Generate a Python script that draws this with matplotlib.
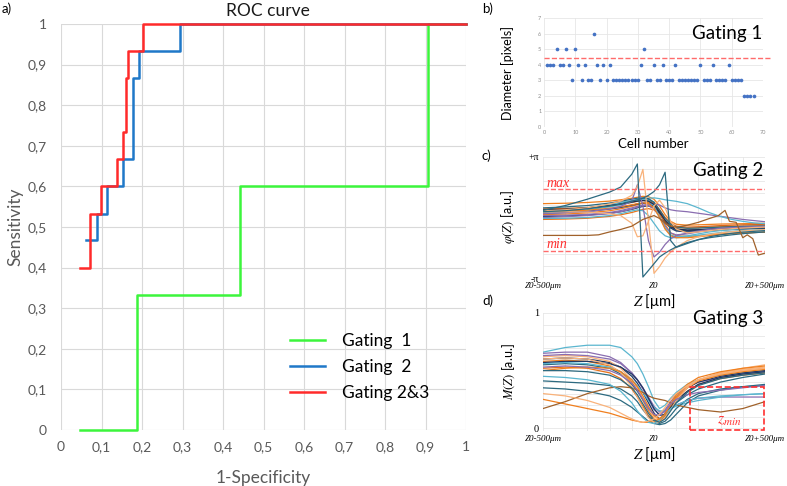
import numpy as np
import matplotlib
matplotlib.use('Agg')
import matplotlib.pyplot as plt
from matplotlib.ticker import FuncFormatter
from matplotlib.patches import Rectangle

plt.rcParams['font.family'] = ['Lato', 'DejaVu Sans']
plt.rcParams['mathtext.fontset'] = 'stix'

# ---- a) ROC curve (step corners) ----
fpr_g1 = [0.047, 0.188, 0.442, 0.907, 1.0]
tpr_g1 = [0.0, 0.333, 0.6, 1.0, 1.0]
fpr_g2 = [0.061, 0.090, 0.113, 0.152, 0.177, 0.193, 0.295, 1.0]
tpr_g2 = [0.467, 0.533, 0.6, 0.667, 0.867, 0.933, 1.0, 1.0]
fpr_g23 = [0.047, 0.072, 0.098, 0.139, 0.154, 0.160, 0.166, 0.203, 1.0]
tpr_g23 = [0.4, 0.533, 0.6, 0.667, 0.733, 0.867, 0.933, 1.0, 1.0]
roc_labels = ['Gating  1', 'Gating  2', 'Gating 2&3']

# ---- b) diameter per cell ----
cell_number = list(range(1, 68))
diameter = [4, 4, 4, 5, 4, 4, 5, 4, 3, 5, 4, 3, 4, 3, 3, 6, 4, 3, 4, 3,
            4, 3, 3, 3, 3, 3, 3, 3, 3, 3, 4, 5, 3, 3, 4, 3, 3, 4, 3, 3,
            3, 4, 3, 3, 3, 3, 3, 3, 3, 4, 3, 3, 3, 4, 3, 3, 3, 3, 4, 3,
            3, 3, 3, 2, 2, 2, 2]
diameter_thr = 4.4

# ---- c) phase curves ----
z_phase = [-500, -400, -300, -200, -150, -100, -75, -50, -25, 0, 25,
           50, 75, 100, 150, 200, 250, 300, 350, 400, 450, 500]
phase_curves = [
    [0.35, 0.40, 0.48, 0.62, 0.72, 0.85, 0.92, 0.98, 0.95, 0.75, 0.30, -0.20, -0.50, -0.65, -0.70, -0.68, -0.65, -0.62, -0.60, -0.58, -0.56, -0.55],
    [0.72, 0.74, 0.78, 0.85, 0.92, 1.00, 1.05, 1.10, 1.08, 0.95, 0.60, 0.15, -0.20, -0.35, -0.40, -0.38, -0.36, -0.34, -0.33, -0.32, -0.31, -0.30],
    [0.15, 0.18, 0.24, 0.35, 0.45, 0.58, 0.66, 0.74, 0.78, 0.70, 0.30, -0.35, -0.80, -0.95, -0.98, -0.95, -0.90, -0.86, -0.82, -0.80, -0.78, -0.76],
    [0.45, 0.47, 0.52, 0.60, 0.68, 0.78, 0.84, 0.88, 0.86, 0.72, 0.40, 0.00, -0.30, -0.45, -0.50, -0.48, -0.45, -0.42, -0.40, -0.38, -0.37, -0.36],
    [0.22, 0.26, 0.32, 0.44, 0.52, 0.64, 0.70, 0.74, 0.72, 0.58, 0.22, -0.25, -0.55, -0.70, -0.75, -0.72, -0.68, -0.65, -0.62, -0.60, -0.58, -0.57],
    [0.05, 0.08, 0.13, 0.22, 0.30, 0.42, 0.50, 0.58, 0.60, 0.50, 0.20, -0.20, -0.48, -0.60, -0.65, -0.63, -0.60, -0.57, -0.55, -0.53, -0.52, -0.51],
    [-0.10, -0.08, -0.04, 0.06, 0.14, 0.26, 0.34, 0.42, 0.46, 0.40, 0.15, -0.20, -0.42, -0.52, -0.55, -0.53, -0.50, -0.48, -0.46, -0.45, -0.44, -0.43],
    [0.10, 0.12, 0.16, 0.26, 0.36, 0.50, 0.58, 0.64, 0.62, 0.45, 0.05, -0.45, -0.80, -0.90, -0.85, -0.75, -0.66, -0.60, -0.55, -0.52, -0.50, -0.48],
    [0.00, 0.04, 0.10, 0.20, 0.30, 0.44, 0.54, 0.62, 0.70, 0.72, 0.65, 0.50, 0.40, 0.35, 0.30, 0.22, 0.14, 0.06, -0.02, -0.10, -0.16, -0.22],
    [0.25, 0.30, 0.40, 0.55, 0.65, 0.80, 0.88, 0.95, 1.00, 1.02, 0.98, 0.92, 0.88, 0.84, 0.72, 0.50, 0.25, 0.05, -0.10, -0.20, -0.28, -0.32],
    [0.35, 0.40, 0.50, 0.68, 0.78, 0.88, 0.92, 0.94, 0.88, 0.60, 0.05, -0.55, -0.90, -1.00, -0.95, -0.85, -0.75, -0.68, -0.62, -0.58, -0.55, -0.52],
    [-0.05, -0.04, 0.00, 0.10, 0.20, 0.34, 0.40, 0.35, 0.10, -0.30, -0.70, -0.95, -1.05, -1.05, -1.00, -0.92, -0.85, -0.78, -0.72, -0.68, -0.65, -0.62],
    [0.50, 0.55, 0.62, 0.75, 0.84, 0.95, 1.00, 1.02, 0.98, 0.80, 0.40, -0.05, -0.35, -0.50, -0.56, -0.55, -0.52, -0.50, -0.48, -0.46, -0.45, -0.44],
    [0.40, 0.43, 0.50, 0.62, 0.70, 0.80, 0.85, 0.88, 0.85, 0.68, 0.28, -0.15, -0.45, -0.60, -0.66, -0.64, -0.61, -0.58, -0.56, -0.55, -0.54, -0.53],
    [0.30, 0.33, 0.38, 0.48, 0.56, 0.66, 0.72, 0.76, 0.72, 0.50, 0.00, -0.60, -0.95, -1.05, -1.05, -1.00, -0.94, -0.88, -0.84, -0.80, -0.78, -0.76],
    [0.20, 0.25, 0.30, 0.45, 0.58, 0.85, 1.70, 0.60, -1.20, -2.05, -1.80, -1.40, -1.10, -0.95, -0.80, -0.70, -0.62, -0.56, -0.52, -0.50, -0.48, -0.46],
    [0.30, 0.30, 0.28, 0.20, 0.10, -0.30, -1.00, -0.95, -0.20, 0.60, 0.90, 0.50, -0.20, -0.60, -0.80, -0.75, -0.68, -0.62, -0.58, -0.55, -0.52, -0.50],
    [0.35, 0.40, 0.50, 0.70, 0.85, 1.15, 1.60, 2.50, -0.20, -2.90, -2.55, -2.10, -1.80, -1.55, -1.20, -1.00, -0.88, -0.80, -0.74, -0.70, -0.66, -0.63],
    [0.30, 0.35, 0.45, 0.60, 0.70, 0.85, 0.92, 1.00, 1.15, 1.35, 1.70, 2.35, -1.20, -1.55, -1.35, -1.15, -1.00, -0.90, -0.82, -0.76, -0.72, -0.68],
    [0.37, 0.62, 0.95, 1.32, 1.58, 2.25, 2.78, -3.09, -2.75, -2.40, -2.05, -1.85, -1.68, -1.53, -1.30, -1.15, -1.05, -0.97, -0.90, -0.84, -0.79, -0.75],
]
phase_colors = ['#2c6a80', '#f07f1e', '#f07f1e', '#d9661c', '#1f3864', '#1f3864',
                '#e8731a', '#8a6db0', '#8a6db0', '#5bb6cf', '#5bb6cf', '#5bb6cf',
                '#2c6a80', '#22304f', '#f07f1e', '#8a6db0', '#f9b27a', '#f9b27a',
                '#2c6a80', '#2c6a80']
z_brown = [-500, -300, -250, -200, -150, -100, -50, 0, 25, 50, 75, 100, 150,
           200, 250, 290, 320, 340, 370, 400, 420, 445, 470, 500]
phase_brown = [-0.93, -0.93, -0.90, -0.75, -0.62, -0.45, -0.10, 0.10, -0.05, -0.30, -0.45, -0.50,
               -0.40, -0.25, -0.05, 0.10, 0.37, -0.20, -0.25, -1.05, -0.90, -1.10, -1.95, -1.85]
phase_max = 1.46
phase_min = -1.72

# ---- d) magnitude curves ----
z_mag = [-500, -400, -300, -200, -150, -100, -75, -50, -25, 0, 25, 50, 75, 100, 150, 200, 300, 400, 500]
mag_curves = [
    [0.66, 0.70, 0.72, 0.72, 0.70, 0.62, 0.56, 0.47, 0.36, 0.24, 0.17, 0.20, 0.26, 0.31, 0.38, 0.42, 0.46, 0.48, 0.50],
    [0.65, 0.66, 0.66, 0.62, 0.57, 0.48, 0.42, 0.34, 0.25, 0.16, 0.12, 0.16, 0.23, 0.29, 0.36, 0.40, 0.44, 0.47, 0.49],
    [0.60, 0.61, 0.60, 0.57, 0.53, 0.45, 0.39, 0.31, 0.22, 0.13, 0.08, 0.12, 0.20, 0.27, 0.35, 0.40, 0.45, 0.48, 0.50],
    [0.58, 0.59, 0.58, 0.54, 0.49, 0.40, 0.33, 0.24, 0.15, 0.08, 0.05, 0.10, 0.19, 0.27, 0.36, 0.42, 0.47, 0.50, 0.52],
    [0.55, 0.56, 0.55, 0.52, 0.47, 0.38, 0.32, 0.25, 0.17, 0.11, 0.08, 0.11, 0.17, 0.22, 0.29, 0.34, 0.40, 0.44, 0.47],
    [0.62, 0.63, 0.62, 0.58, 0.52, 0.42, 0.35, 0.26, 0.17, 0.10, 0.07, 0.10, 0.18, 0.26, 0.36, 0.42, 0.48, 0.51, 0.53],
    [0.52, 0.53, 0.52, 0.48, 0.43, 0.34, 0.27, 0.19, 0.11, 0.06, 0.06, 0.11, 0.18, 0.24, 0.32, 0.38, 0.43, 0.46, 0.48],
    [0.63, 0.64, 0.63, 0.60, 0.56, 0.48, 0.42, 0.35, 0.27, 0.19, 0.14, 0.14, 0.17, 0.20, 0.24, 0.26, 0.27, 0.27, 0.27],
    [0.56, 0.57, 0.56, 0.53, 0.49, 0.42, 0.37, 0.31, 0.24, 0.18, 0.15, 0.15, 0.17, 0.19, 0.22, 0.24, 0.27, 0.29, 0.30],
    [0.41, 0.40, 0.39, 0.37, 0.34, 0.28, 0.23, 0.16, 0.10, 0.06, 0.04, 0.06, 0.11, 0.17, 0.25, 0.30, 0.34, 0.36, 0.37],
    [0.35, 0.34, 0.32, 0.28, 0.24, 0.18, 0.14, 0.10, 0.06, 0.04, 0.03, 0.04, 0.07, 0.12, 0.22, 0.28, 0.33, 0.36, 0.38],
    [0.25, 0.21, 0.17, 0.13, 0.10, 0.07, 0.06, 0.05, 0.05, 0.06, 0.08, 0.13, 0.20, 0.26, 0.35, 0.41, 0.46, 0.49, 0.51],
    [0.17, 0.23, 0.30, 0.35, 0.36, 0.35, 0.33, 0.31, 0.28, 0.26, 0.25, 0.24, 0.22, 0.20, 0.18, 0.16, 0.14, 0.17, 0.23],
    [0.57, 0.58, 0.58, 0.56, 0.53, 0.47, 0.42, 0.35, 0.26, 0.17, 0.11, 0.12, 0.18, 0.24, 0.32, 0.38, 0.44, 0.47, 0.49],
    [0.60, 0.61, 0.60, 0.55, 0.48, 0.36, 0.27, 0.17, 0.09, 0.05, 0.05, 0.09, 0.16, 0.24, 0.35, 0.42, 0.48, 0.52, 0.55],
    [0.45, 0.44, 0.42, 0.38, 0.32, 0.22, 0.15, 0.09, 0.05, 0.04, 0.07, 0.12, 0.17, 0.20, 0.24, 0.26, 0.28, 0.29, 0.30],
    [0.50, 0.52, 0.53, 0.52, 0.49, 0.42, 0.36, 0.28, 0.19, 0.11, 0.08, 0.12, 0.21, 0.29, 0.38, 0.44, 0.49, 0.52, 0.54],
    [0.53, 0.54, 0.53, 0.50, 0.46, 0.39, 0.33, 0.25, 0.17, 0.12, 0.11, 0.15, 0.21, 0.25, 0.29, 0.31, 0.33, 0.35, 0.37],
    [0.50, 0.50, 0.49, 0.46, 0.42, 0.35, 0.29, 0.21, 0.13, 0.07, 0.05, 0.08, 0.15, 0.22, 0.31, 0.37, 0.43, 0.46, 0.48],
    [0.30, 0.28, 0.24, 0.18, 0.13, 0.08, 0.06, 0.05, 0.06, 0.08, 0.12, 0.18, 0.25, 0.30, 0.37, 0.42, 0.47, 0.50, 0.52],
]
mag_colors = ['#5bb6cf', '#8a6db0', '#1f3864', '#f07f1e', '#2c6a80', '#f9b27a',
              '#e8731a', '#8a6db0', '#5bb6cf', '#2c6a80', '#2c6a80', '#f07f1e',
              '#a0612a', '#1f3864', '#f9b27a', '#5bb6cf', '#f07f1e', '#8a6db0',
              '#2c6a80', '#f9b27a']
zmin_box = (160, 495, -0.017, 0.36)

fig = plt.figure(figsize=(7.87, 4.86), dpi=100)
W, H = 787.0, 486.0

def px_axes(x0, y0, x1, y1):
    return fig.add_axes([x0 / W, 1 - y1 / H, (x1 - x0) / W, (y1 - y0) / H])

grey = '#595959'
gridc = '#d9d9d9'

# ---------- a) ----------
ax = px_axes(61, 24, 466, 430)
ax.plot(fpr_g1, tpr_g1, drawstyle='steps-post', color='#3cf53c', lw=1.8, label=roc_labels[0], clip_on=False)
ax.plot(fpr_g2, tpr_g2, drawstyle='steps-post', color='#1f78c8', lw=1.8, label=roc_labels[1], clip_on=False)
ax.plot(fpr_g23, tpr_g23, drawstyle='steps-post', color='#ff2a2a', lw=1.8, label=roc_labels[2], clip_on=False)
ax.set_xlim(0, 1)
ax.set_ylim(0, 1)
ax.set_xticks(np.linspace(0, 1, 11))
ax.set_yticks(np.linspace(0, 1, 11))
comma = FuncFormatter(lambda v, p: ('%g' % round(v, 2)).replace('.', ','))
ax.xaxis.set_major_formatter(comma)
ax.yaxis.set_major_formatter(comma)
ax.tick_params(length=0, labelsize=10, colors=grey, pad=10)
ax.tick_params(axis='x', pad=8)
ax.grid(True, color=gridc, lw=0.8)
for s in ax.spines.values():
    s.set_visible(False)
ax.set_xlabel('1-Specificity', fontsize=12.5, color=grey, labelpad=12)
ax.set_ylabel('Sensitivity', fontsize=12.5, color=grey, labelpad=3)
fig.text(268 / W, 1 - 11 / H, 'ROC curve', fontsize=12.5, color='#1a1a1a', ha='center', va='center')
ax.legend(loc='lower left', bbox_to_anchor=(0.545, 0.05), frameon=False, fontsize=12.5,
          handlelength=2.0, handletextpad=1.0, labelspacing=0.58, borderpad=0)
fig.text(2 / W, 1 - 9 / H, 'a)', fontsize=9.5, va='center', ha='left')

# ---------- b) ----------
bx = px_axes(544, 18, 763, 127)
bx.scatter(cell_number, diameter, s=7, color='#4472c4', zorder=3, linewidths=0)
bx.plot([0, 73], [diameter_thr, diameter_thr], color='#ff6b6b', ls='--', lw=1.0, clip_on=False, zorder=2)
bx.set_xlim(0, 70)
bx.set_ylim(0, 7)
bx.set_xticks(range(0, 71, 10))
bx.set_yticks(range(0, 8))
bx.tick_params(length=0, labelsize=4, colors='#8c8c8c', pad=2)
bx.grid(True, color='#e6e6e6', lw=0.6)
for s in bx.spines.values():
    s.set_visible(False)
bx.set_xlabel('Cell number', fontsize=9.5, labelpad=2)
bx.set_ylabel('Diameter [pixels]', fontsize=9, labelpad=2)
bx.yaxis.set_label_coords(-0.135, 0.5)
bx.text(0.995, 0.86, 'Gating 1', transform=bx.transAxes, ha='right', va='center', fontsize=13.5)
fig.text(482 / W, 1 - 9 / H, 'b)', fontsize=9.5, va='center', ha='left')

serif = 'Liberation Serif'

def style_z(a):
    a.set_xlim(-500, 500)
    a.set_xticks([-500, 0, 500])
    a.set_xticklabels(['Z0-500μm', 'Z0', 'Z0+500μm'], fontfamily=serif, fontstyle='italic', fontsize=6.5)
    a.set_xticks(np.arange(-500, 501, 100), minor=True)
    a.tick_params(which='both', length=0, pad=3)
    a.grid(True, which='both', color='#e6e6e6', lw=0.6)
    for s in a.spines.values():
        s.set_visible(False)
    a.set_xlabel('$Z$ [μm]', fontsize=10.5, labelpad=1)
    a.yaxis.set_label_coords(-0.117, 0.5)

# ---------- c) ----------
cx = px_axes(543, 157, 765, 278)
for ys, col in zip(phase_curves, phase_colors):
    cx.plot(z_phase, ys, color=col, lw=0.9)
cx.plot(z_brown, phase_brown, color='#a0612a', lw=0.9)
cx.axhline(phase_max, color='#ff6b6b', ls='--', lw=1.0)
cx.axhline(phase_min, color='#ff6b6b', ls='--', lw=1.0)
cx.set_ylim(-np.pi, np.pi)
cx.set_yticks([-np.pi, np.pi])
cx.set_yticklabels(['-π', '+π'], fontfamily=serif, fontsize=7)
cx.set_yticks(np.linspace(-np.pi, np.pi, 11), minor=True)
style_z(cx)
cx.text(-482, phase_max + 0.33, 'max', color='#ff3030', fontfamily=serif, fontstyle='italic', fontsize=10, va='center')
cx.text(-482, phase_min + 0.33, 'min', color='#ff3030', fontfamily=serif, fontstyle='italic', fontsize=10, va='center')
cx.set_ylabel(r'$\varphi(Z)$ [a.u.]', fontsize=9)
cx.text(0.99, 0.885, 'Gating 2', transform=cx.transAxes, ha='right', va='center', fontsize=13.5)
fig.text(482 / W, 1 - 156 / H, 'c)', fontsize=9.5, va='center', ha='left')

# ---------- d) ----------
dx = px_axes(543, 313, 765, 431)
for ys, col in zip(mag_curves, mag_colors):
    dx.plot(z_mag, ys, color=col, lw=0.9)
dx.set_ylim(-0.025, 1.0)
dx.set_yticks([0, 1])
dx.set_yticklabels(['0', '1'], fontfamily=serif, fontsize=7.5)
dx.set_yticks(np.linspace(0, 1, 11), minor=True)
style_z(dx)
x0, x1, y0, y1 = zmin_box
dx.add_patch(Rectangle((x0, y0), x1 - x0, y1 - y0, fill=False, ec='#ff3030', ls='--', lw=1.2, zorder=5))
dx.text((x0 + x1) / 2 + 10, 0.06, '$z_{min}$', color='#ff3030', fontsize=11.5, ha='center', va='center')
dx.set_ylabel('$M(Z)$ [a.u.]', fontsize=9)
dx.text(0.99, 0.955, 'Gating 3', transform=dx.transAxes, ha='right', va='center', fontsize=13.5)
fig.text(482 / W, 1 - 301 / H, 'd)', fontsize=9.5, va='center', ha='left')

fig.savefig('out.png', dpi=100)
